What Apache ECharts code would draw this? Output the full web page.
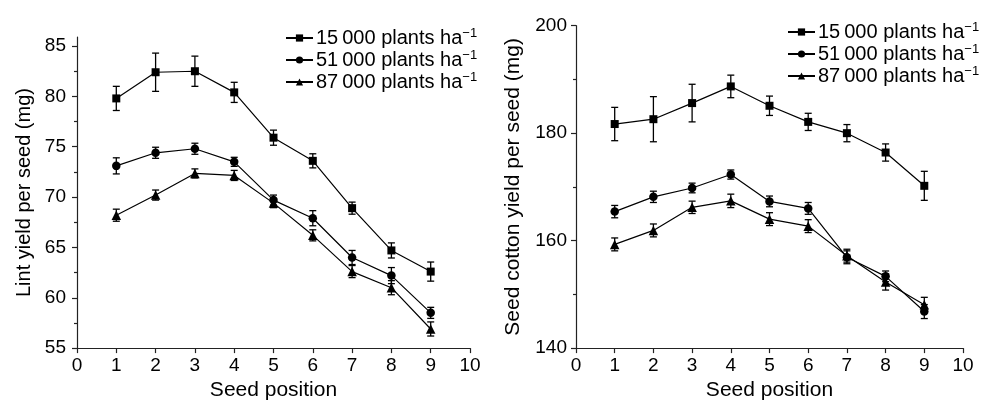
<!DOCTYPE html>
<html>
<head>
<meta charset="utf-8">
<script src="https://cdn.jsdelivr.net/npm/echarts@6/dist/echarts.min.js"></script>
<style>
  html, body { margin: 0; padding: 0; background: #fff; }
  #chart { width: 981px; height: 406px; }
</style>
</head>
<body>
<div id="chart"></div>
<script>
// seed positions on the x axis
const positions = [1, 2, 3, 4, 5, 6, 7, 8, 9]
const densities = ['15\u2009000 plants ha', '51\u2009000 plants ha', '87\u2009000 plants ha']

// lint yield per seed (mg), mean and error
const lint15 = [79.8, 82.4, 82.5, 80.4, 75.9, 73.6, 68.9, 64.7, 62.6]
const lint15Err = [1.2, 1.9, 1.5, 1.0, 0.75, 0.7, 0.6, 0.75, 0.95]
const lint51 = [73.1, 74.4, 74.8, 73.5, 69.7, 67.9, 64.0, 62.2, 58.5]
const lint51Err = [0.8, 0.55, 0.55, 0.45, 0.5, 0.75, 0.7, 0.8, 0.55]
const lint87 = [68.2, 70.2, 72.35, 72.15, 69.4, 66.2, 62.6, 61.0, 56.9]
const lint87Err = [0.6, 0.5, 0.45, 0.5, 0.45, 0.55, 0.6, 0.7, 0.7]

// seed cotton yield per seed (mg), mean and error
const seed15 = [181.7, 182.6, 185.6, 188.7, 185.1, 182.1, 180.0, 176.4, 170.2]
const seed15Err = [3.1, 4.2, 3.5, 2.1, 1.8, 1.6, 1.6, 1.6, 2.7]
const seed51 = [165.4, 168.15, 169.8, 172.3, 167.3, 166.0, 156.9, 153.35, 146.8]
const seed51Err = [1.15, 1.05, 0.9, 0.85, 1.0, 1.1, 1.2, 1.0, 1.3]
const seed87 = [159.3, 161.9, 166.2, 167.4, 164.0, 162.7, 157.2, 152.3, 148.05]
const seed87Err = [1.2, 1.2, 1.15, 1.25, 1.2, 1.2, 1.2, 1.5, 1.4]

// tick values
const xTicks = [0, 1, 2, 3, 4, 5, 6, 7, 8, 9, 10]
const lintTicks = [55, 60, 65, 70, 75, 80, 85]
const lintMinorTicks = [57.5, 62.5, 67.5, 72.5, 77.5, 82.5]
const seedTicks = [140, 160, 180, 200]

const symbols = ['rect', 'circle', 'triangle']
const symbolSizes = [8, 8.5, 9.5]
const FONT = "'Liberation Sans', Arial, sans-serif"
const INK = '#000'
const AXIS = '#222'

function xAxisFor(grid) {
  return {
    type: 'value', gridIndex: grid, min: 0, max: 10, interval: 1,
    name: 'Seed position', nameLocation: 'middle', nameGap: 29,
    nameTextStyle: { color: INK, fontSize: 21, fontFamily: FONT },
    axisLine: { onZero: false, lineStyle: { color: AXIS, width: 1.2 } },
    axisTick: { length: 5, lineStyle: { color: AXIS, width: 1.2 } },
    axisLabel: { color: INK, fontSize: 19, fontFamily: FONT, margin: 8, customValues: xTicks },
    splitLine: { show: false }
  }
}

function lineSeries(name, values, idx, axisIdx) {
  return {
    type: 'line', name: name, xAxisIndex: axisIdx, yAxisIndex: axisIdx === 0 ? 0 : 2,
    data: positions.map((p, i) => [p, values[i]]),
    symbol: symbols[idx], symbolSize: symbolSizes[idx],
    itemStyle: { color: INK },
    lineStyle: { color: INK, width: 1.2 },
    z: 3, animation: false
  }
}

function errorSeries(values, errors, axisIdx) {
  return {
    type: 'custom', xAxisIndex: axisIdx, yAxisIndex: axisIdx === 0 ? 0 : 2,
    data: positions.map((p, i) => [p, values[i] - errors[i], values[i] + errors[i]]),
    renderItem: function (params, api) {
      const lo = api.coord([api.value(0), api.value(1)])
      const hi = api.coord([api.value(0), api.value(2)])
      const w = 3.5
      const style = { stroke: INK, lineWidth: 1.3 }
      return {
        type: 'group',
        children: [
          { type: 'line', shape: { x1: lo[0], y1: lo[1], x2: hi[0], y2: hi[1] }, style: style },
          { type: 'line', shape: { x1: lo[0] - w, y1: lo[1], x2: lo[0] + w, y2: lo[1] }, style: style },
          { type: 'line', shape: { x1: hi[0] - w, y1: hi[1], x2: hi[0] + w, y2: hi[1] }, style: style }
        ]
      }
    },
    silent: true, z: 2, animation: false
  }
}

function legendFor(left, top) {
  return {
    orient: 'vertical', left: left, top: top, itemGap: 0,
    itemWidth: 27, itemHeight: 9,
    data: densities,
    formatter: name => '{t|' + name + '}{sup|\u22121}',
    textStyle: {
      color: INK, fontFamily: FONT, fontSize: 20, lineHeight: 22, padding: [0, 0, 0, -2],
      rich: {
        t: { fontSize: 20, fontFamily: FONT, color: INK, lineHeight: 22 },
        sup: { fontSize: 13, fontFamily: FONT, color: INK, lineHeight: 22, verticalAlign: 'top', padding: [0, 0, 6, 0] }
      }
    },
    selectedMode: false
  }
}

const chart = echarts.init(document.getElementById('chart'))
chart.setOption({
  backgroundColor: '#fff',
  animation: false,
  textStyle: { fontFamily: FONT },
  grid: [
    { left: 77, right: 511, top: 37, bottom: 50.5 },
    { left: 576, right: 18, top: 25.7, bottom: 51.7 }
  ],
  legend: [legendFor(280, 22), legendFor(782, 16)],
  xAxis: [xAxisFor(0), xAxisFor(1)],
  yAxis: [
    {
      type: 'value', gridIndex: 0, position: 'left', min: 55, max: 85.9, interval: 5,
      name: 'Lint yield per seed (mg)', nameLocation: 'middle', nameGap: 43,
      nameTextStyle: { color: INK, fontSize: 20, fontFamily: FONT },
      axisLine: { show: true, onZero: false, lineStyle: { color: AXIS, width: 1.2 } },
      axisTick: { length: 5, customValues: lintTicks, lineStyle: { color: AXIS, width: 1.2 } },
      axisLabel: { color: INK, fontSize: 19, fontFamily: FONT, margin: 11, customValues: lintTicks },
      splitLine: { show: false }
    },
    {
      // minor ticks of the lint axis
      type: 'value', gridIndex: 0, position: 'left', min: 55, max: 85.9,
      axisLine: { show: false },
      axisTick: { length: 3, customValues: lintMinorTicks, lineStyle: { color: AXIS, width: 1.2 } },
      axisLabel: { show: false },
      splitLine: { show: false }
    },
    {
      type: 'value', gridIndex: 1, position: 'left', min: 140, max: 200, interval: 20,
      name: 'Seed cotton yield per seed (mg)', nameLocation: 'middle', nameGap: 52,
      nameTextStyle: { color: INK, fontSize: 21, fontFamily: FONT },
      axisLine: { show: true, onZero: false, lineStyle: { color: AXIS, width: 1.2 } },
      axisTick: { length: 5, customValues: seedTicks, lineStyle: { color: AXIS, width: 1.2 } },
      axisLabel: { color: INK, fontSize: 19, fontFamily: FONT, margin: 9, customValues: seedTicks },
      minorTick: { show: true, splitNumber: 2, length: 3, lineStyle: { color: AXIS, width: 1.2 } },
      splitLine: { show: false }
    }
  ],
  series: [
    errorSeries(lint15, lint15Err, 0),
    errorSeries(lint51, lint51Err, 0),
    errorSeries(lint87, lint87Err, 0),
    lineSeries(densities[0], lint15, 0, 0),
    lineSeries(densities[1], lint51, 1, 0),
    lineSeries(densities[2], lint87, 2, 0),
    errorSeries(seed15, seed15Err, 1),
    errorSeries(seed51, seed51Err, 1),
    errorSeries(seed87, seed87Err, 1),
    lineSeries(densities[0], seed15, 0, 1),
    lineSeries(densities[1], seed51, 1, 1),
    lineSeries(densities[2], seed87, 2, 1)
  ]
})
</script>
</body>
</html>
